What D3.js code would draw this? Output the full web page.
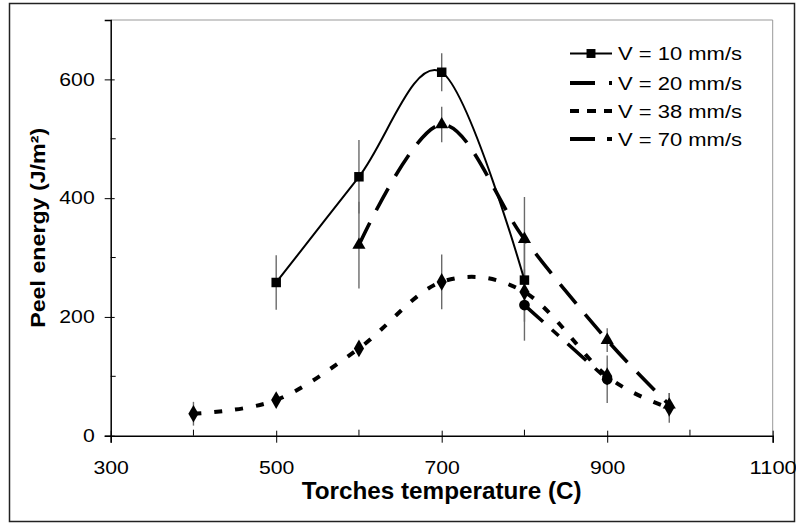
<!DOCTYPE html>
<html><head><meta charset="utf-8">
<script src="https://cdn.jsdelivr.net/npm/d3@7"></script>
<style>body{margin:0;background:#fff}svg{display:block}text{font-family:"Liberation Sans",Arial,sans-serif}</style>
</head><body><svg id="c" width="796" height="528"></svg>
<script>
// ---- data ----
const xTicks = [300, 500, 700, 900, 1100];
const xMinorTicks = [400, 600, 800, 1000];
const yTicks = [0, 200, 400, 600];
const yMinorTicks = [100, 300, 500];

const v10X = [500, 600, 700, 800];
const v10Y = [258, 436, 612, 262];
const v10Err = [46, 62, 32, 70];

const v20X = [600, 700, 800, 900, 975];
const v20Y = [321, 524, 331, 161, 52];
const v20Err = [73, 30, 71, 20, 20];

const v38X = [400, 500, 600, 700, 800, 900, 975];
const v38Y = [37, 60, 147, 259, 242, 100, 47];
const v38Err = [20, 12, 8, 46, 20, 15, 25];

const v70X = [800, 900];
const v70Y = [220, 95];
const v70Err = [60, 40];

const seriesNames = ["V = 10 mm/s", "V = 20 mm/s", "V = 38 mm/s", "V = 70 mm/s"];

// ---- layout ----
const svg = d3.select("#c");
const L = 110.7, R = 772.7, T = 20, B = 435.7;
const x = d3.scaleLinear().domain([300, 1100]).range([L, R]);
const y = d3.scaleLinear().domain([0, 700]).range([B, T]);

// outer border
svg.append("rect").attr("x", 9.5).attr("y", 3.5).attr("width", 785).attr("height", 518)
  .attr("fill", "none").attr("stroke", "#222").attr("stroke-width", 1.5);

// plot frame (top/right gray)
svg.append("path").attr("d", `M${L},${T}H${R}V${B}`).attr("fill", "none")
  .attr("stroke", "#999").attr("stroke-width", 1);

// axes
const gx = svg.append("g").attr("transform", `translate(0,${B})`)
  .call(d3.axisBottom(x).tickValues(xTicks).tickSize(7).tickFormat(d3.format("d")));
gx.select(".domain").attr("stroke", "#000").attr("stroke-width", 1.5);
gx.selectAll(".tick line").attr("stroke", "#000").attr("y1", -5).attr("y2", 7);
gx.selectAll(".tick text").attr("font-size", 18).attr("fill", "#000").attr("y", 0)
  .attr("dy", "2.12em").attr("font-family", "Liberation Sans, Arial, sans-serif")
  .attr("textLength", d => String(d).length * 11.8).attr("lengthAdjust", "spacingAndGlyphs");
svg.append("g").selectAll("line").data(xMinorTicks).join("line")
  .attr("x1", d => x(d)).attr("x2", d => x(d)).attr("y1", B - 6).attr("y2", B)
  .attr("stroke", "#000").attr("stroke-width", 1);

const gy = svg.append("g").attr("transform", `translate(${L},0)`)
  .call(d3.axisLeft(y).tickValues(yTicks).tickSize(6).tickPadding(10).tickFormat(d3.format("d")));
gy.select(".domain").attr("stroke", "#000").attr("stroke-width", 1.5);
gy.selectAll(".tick line").attr("stroke", "#000").attr("x1", -6).attr("x2", 4);
gy.selectAll(".tick text").attr("font-size", 18).attr("fill", "#000").attr("x", -16)
  .attr("font-family", "Liberation Sans, Arial, sans-serif")
  .attr("textLength", d => String(d).length * 11.8).attr("lengthAdjust", "spacingAndGlyphs");
svg.append("g").selectAll("line").data(yMinorTicks).join("line")
  .attr("x1", L).attr("x2", L + 5).attr("y1", d => y(d)).attr("y2", d => y(d))
  .attr("stroke", "#000").attr("stroke-width", 1);

// axis titles
svg.append("text").attr("x", (L + R) / 2).attr("y", 499).attr("text-anchor", "middle")
  .attr("font-size", 23).attr("font-weight", "bold").attr("textLength", 280)
  .attr("lengthAdjust", "spacingAndGlyphs").text("Torches temperature (C)");
svg.append("text").attr("transform", `translate(45,${(T + B) / 2}) rotate(-90)`)
  .attr("text-anchor", "middle").attr("font-size", 20).attr("font-weight", "bold")
  .attr("textLength", 200).attr("lengthAdjust", "spacingAndGlyphs").text("Peel energy (J/m²)");

// error bars
const errColor = "#6a6a6a";
function errBars(xs, ys, es) {
  svg.append("g").selectAll("line").data(xs.map((d, i) => [d, ys[i], es[i]])).join("line")
    .attr("x1", d => x(d[0])).attr("x2", d => x(d[0]))
    .attr("y1", d => y(d[1] + d[2])).attr("y2", d => y(d[1] - d[2]))
    .attr("stroke", errColor).attr("stroke-width", 1.4);
}
errBars(v10X, v10Y, v10Err);
errBars(v20X, v20Y, v20Err);
errBars(v38X, v38Y, v38Err);
errBars(v70X, v70Y, v70Err);

// lines
const line = d3.line().x(d => x(d[0])).y(d => y(d[1])).curve(d3.curveCardinal.tension(0));
const zip = (a, b) => a.map((d, i) => [d, b[i]]);
const styles = [
  { w: 2, dash: null },
  { w: 3.6, dash: "25,14" },
  { w: 4, dash: "8,13" },
  { w: 3.6, dash: "25,12,9,12" }
];
const dataSets = [zip(v10X, v10Y), zip(v20X, v20Y), zip(v38X, v38Y), zip(v70X, v70Y)];
dataSets.forEach((ds, i) => {
  svg.append("path").datum(ds).attr("d", line).attr("fill", "none")
    .attr("stroke", "#000").attr("stroke-width", styles[i].w)
    .attr("stroke-dasharray", styles[i].dash);
});

// markers
const symTypes = [d3.symbolSquare, d3.symbolTriangle, d3.symbolDiamond, d3.symbolCircle];
const symSizes = [90, 75, 90, 90];
dataSets.forEach((ds, i) => {
  svg.append("g").selectAll("path").data(ds).join("path")
    .attr("transform", d => `translate(${x(d[0])},${y(d[1])})`)
    .attr("d", d3.symbol().type(symTypes[i]).size(symSizes[i])).attr("fill", "#000");
});

// legend
const legY = [53.5, 83, 111, 139];
const legDash = [null, "25,14", "9,8", "25,12,9,12"];
seriesNames.forEach((name, i) => {
  const g = svg.append("g").attr("transform", `translate(0,${legY[i]})`);
  g.append("line").attr("x1", 570).attr("x2", 612).attr("y1", 0).attr("y2", 0)
    .attr("stroke", "#000").attr("stroke-width", i === 0 ? 2 : 4).attr("stroke-dasharray", legDash[i]);
  if (i === 0) g.append("path").attr("transform", "translate(591,0)")
    .attr("d", d3.symbol().type(d3.symbolSquare).size(80)).attr("fill", "#000");
  g.append("text").attr("x", 618).attr("y", 0).attr("dy", "0.36em").attr("font-size", 18.5)
    .attr("textLength", 124).attr("lengthAdjust", "spacingAndGlyphs").text(name);
});
</script></body></html>
